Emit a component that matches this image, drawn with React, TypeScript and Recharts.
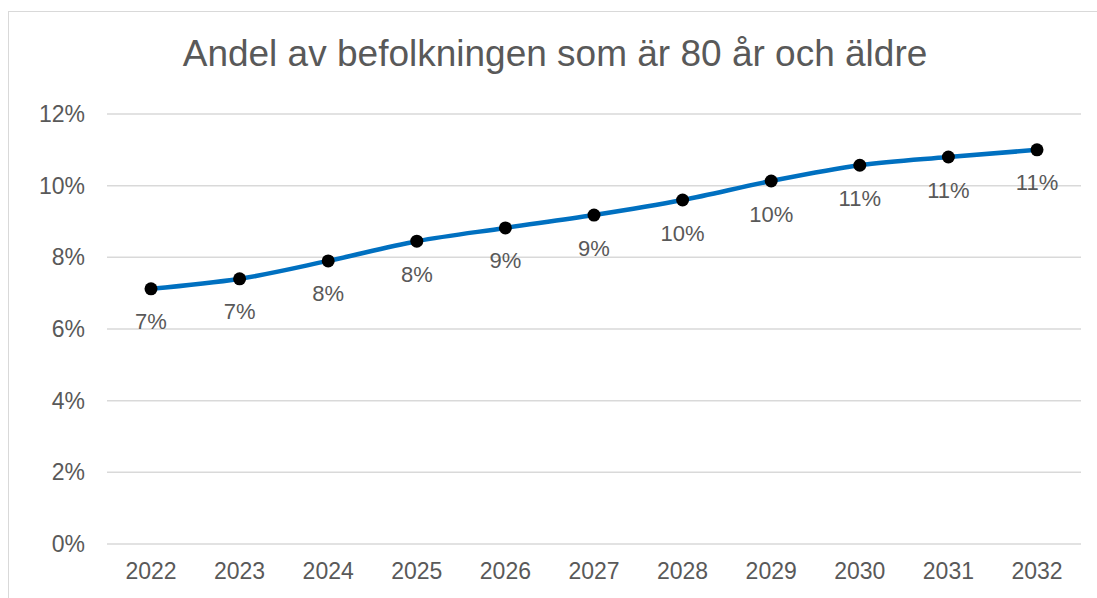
import React from 'react';
import { LineChart, Line, XAxis, YAxis, CartesianGrid, LabelList } from 'recharts';

const years = ['2022', '2023', '2024', '2025', '2026', '2027', '2028', '2029', '2030', '2031', '2032'];
const shares = [7.12, 7.4, 7.9, 8.45, 8.82, 9.18, 9.6, 10.13, 10.57, 10.8, 11.0];
const yTicks = [0, 2, 4, 6, 8, 10, 12];
const title = 'Andel av befolkningen som är 80 år och äldre';

const data = years.map((y, i) => ({ year: y, value: shares[i] }));

const FONT = '"Liberation Sans", Arial, sans-serif';
const TEXT = '#595959';

const renderLabel = (props: any) => {
  const { x, y, value } = props;
  return (
    <text x={x} y={y + 33} textAnchor="middle" dominantBaseline="central" fill={TEXT} fontSize={22} fontFamily={FONT}>
      {Math.round(value)}%
    </text>
  );
};

export default function App() {
  return (
    <div style={{ position: 'absolute', left: 0, top: 0, width: 1097, height: 598, background: '#fff', overflow: 'hidden' }}>
      <div style={{ position: 'absolute', left: 8, top: 11, width: 1200, height: 700, borderLeft: '1.5px solid #d9d9d9', borderTop: '1.5px solid #d9d9d9' }} />
      <svg width={1097} height={100} style={{ position: 'absolute', left: 0, top: 0 }}>
        <text x={555} y={66} textAnchor="middle" fill={TEXT} fontSize={37} fontFamily={FONT}>{title}</text>
      </svg>
      <div style={{ position: 'absolute', left: 0, top: 0 }}>
        <LineChart width={1097} height={598} data={data} margin={{ top: 114, right: 16, bottom: 0, left: 0 }}>
          <CartesianGrid vertical={false} stroke="#d9d9d9" strokeWidth={1.5} />
          <XAxis dataKey="year" axisLine={false} tickLine={false} tickSize={0} tickMargin={19} height={54}
            padding={{ left: 44, right: 44 }}
            tick={{ fill: TEXT, fontSize: 23, fontFamily: FONT }} interval={0} />
          <YAxis domain={[0, 12]} ticks={yTicks} axisLine={false} tickLine={false} tickSize={0} tickMargin={22} width={107}
            tickFormatter={(v: number) => `${v}%`} tick={{ fill: TEXT, fontSize: 23, fontFamily: FONT }} />
          <Line type="monotone" dataKey="value" stroke="#0070C0" strokeWidth={4.5} isAnimationActive={false}
            dot={{ r: 6.5, fill: '#000', stroke: '#000', strokeWidth: 0 }} activeDot={false}>
            <LabelList dataKey="value" content={renderLabel} />
          </Line>
        </LineChart>
      </div>
    </div>
  );
}
